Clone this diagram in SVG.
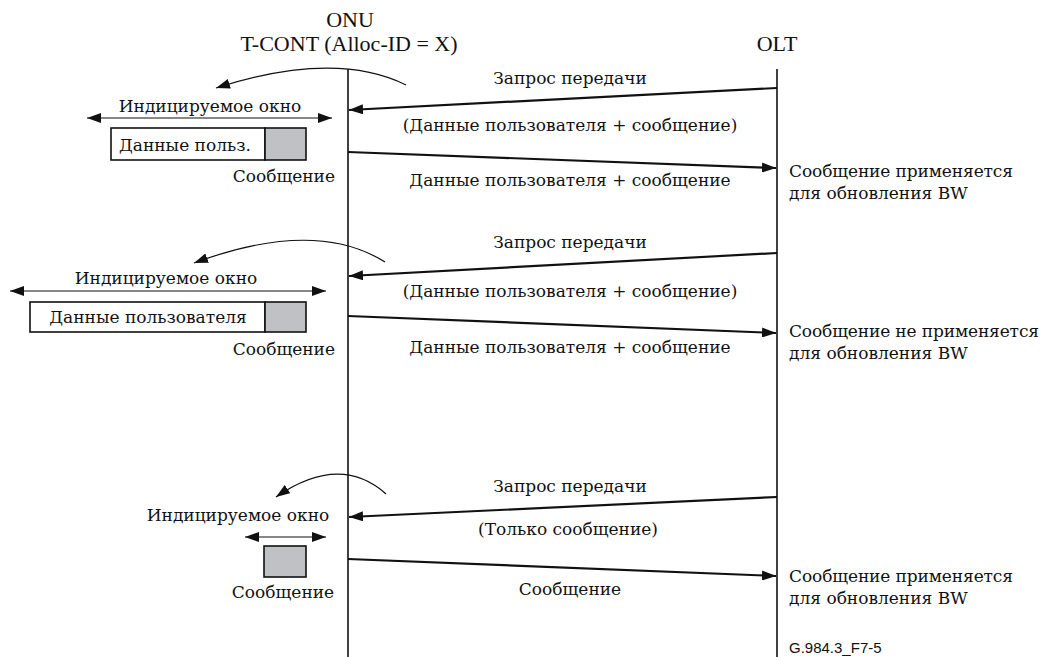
<svg xmlns="http://www.w3.org/2000/svg" width="1042" height="657" viewBox="0 0 1042 657">
  <style>
    text { font-family: 'DejaVu Serif', serif; font-size: 17px; fill: #111; }
    .lat { font-family: 'Liberation Serif', serif; font-size: 22px; }
    .mid { text-anchor: middle; }
    .end { text-anchor: end; }
    .small { font-family: 'Liberation Sans', sans-serif; font-size: 15px; }
    .life { stroke: #111; stroke-width: 1.6; fill: none; }
    .msg { stroke: #111; stroke-width: 2.2; fill: none; }
    .thin { stroke: #111; stroke-width: 1.2; fill: none; }
    .box { fill: #fff; stroke: #111; stroke-width: 1.6; }
    .msgbox { fill: #c0c1c4; stroke: #111; stroke-width: 1.6; }
  </style>
  <defs>
    <marker id="ah" viewBox="0 0 14 10" refX="14" refY="5" markerWidth="14" markerHeight="10" markerUnits="userSpaceOnUse" orient="auto-start-reverse">
      <path d="M0,0 L14,5 L0,10 Z" fill="#111"/>
    </marker>
  </defs>
  <rect width="1042" height="657" fill="#fff"/>

  <!-- Lifelines -->
  <g id="onu">
    <text class="lat mid" x="350" y="27">ONU</text>
    <text class="lat mid" x="349" y="51">T-CONT (Alloc-ID = X)</text>
    <line class="life" x1="348" y1="69" x2="348" y2="657"/>
  </g>
  <g id="olt">
    <text class="lat mid" x="777" y="51">OLT</text>
    <line class="life" x1="777" y1="69" x2="777" y2="657"/>
  </g>

  <!-- Messages and window arrows -->
  <g id="connectors">
    <!-- cycle 1 -->
    <path class="thin" d="M406,85 Q335,50 216,88" marker-end="url(#ah)"/>
    <line class="msg" x1="777" y1="88" x2="349" y2="110" marker-end="url(#ah)"/>
    <line class="msg" x1="348" y1="152" x2="776" y2="168" marker-end="url(#ah)"/>
    <line class="thin" x1="87" y1="118" x2="332" y2="118" marker-start="url(#ah)" marker-end="url(#ah)"/>
    <!-- cycle 2 -->
    <path class="thin" d="M385,262 Q315,218 194,263" marker-end="url(#ah)"/>
    <line class="msg" x1="777" y1="253" x2="349" y2="276" marker-end="url(#ah)"/>
    <line class="msg" x1="348" y1="316" x2="776" y2="333" marker-end="url(#ah)"/>
    <line class="thin" x1="10" y1="291" x2="326" y2="291" marker-start="url(#ah)" marker-end="url(#ah)"/>
    <!-- cycle 3 -->
    <path class="thin" d="M386,494 Q340,453 276,497" marker-end="url(#ah)"/>
    <line class="msg" x1="777" y1="497" x2="349" y2="517" marker-end="url(#ah)"/>
    <line class="msg" x1="348" y1="559" x2="776" y2="576" marker-end="url(#ah)"/>
    <line class="thin" x1="245" y1="537" x2="326" y2="537" marker-start="url(#ah)" marker-end="url(#ah)"/>
  </g>

  <!-- Cycle 1: report used -->
  <g id="cycle1">
    <text class="mid" x="570" y="84">Запрос передачи</text>
    <text class="mid" x="570" y="131">(Данные пользователя + сообщение)</text>
    <text class="mid" x="570" y="186">Данные пользователя + сообщение</text>
    <text x="789" y="177" textLength="224">Сообщение применяется</text>
    <text x="789" y="199">для обновления BW</text>
    <text class="mid" x="210" y="112">Индицируемое окно</text>
    <rect class="box" x="111" y="128" width="154" height="32"/>
    <rect class="msgbox" x="265" y="128" width="41" height="32"/>
    <text x="119" y="151">Данные польз.</text>
    <text class="end" x="335" y="182">Сообщение</text>
  </g>

  <!-- Cycle 2: report not used -->
  <g id="cycle2">
    <text class="mid" x="570" y="248">Запрос передачи</text>
    <text class="mid" x="570" y="297">(Данные пользователя + сообщение)</text>
    <text class="mid" x="570" y="353">Данные пользователя + сообщение</text>
    <text x="789" y="337" textLength="250">Сообщение не применяется</text>
    <text x="789" y="359">для обновления BW</text>
    <text class="mid" x="166" y="284">Индицируемое окно</text>
    <rect class="box" x="30" y="302" width="235" height="30"/>
    <rect class="msgbox" x="265" y="302" width="41" height="30"/>
    <text class="mid" x="148" y="323">Данные пользователя</text>
    <text class="end" x="335" y="355">Сообщение</text>
  </g>

  <!-- Cycle 3: report only -->
  <g id="cycle3">
    <text class="mid" x="570" y="492">Запрос передачи</text>
    <text class="mid" x="568" y="535">(Только сообщение)</text>
    <text class="mid" x="570" y="595">Сообщение</text>
    <text x="789" y="582" textLength="224">Сообщение применяется</text>
    <text x="789" y="604">для обновления BW</text>
    <text class="mid" x="238" y="521">Индицируемое окно</text>
    <rect class="msgbox" x="264" y="546" width="42" height="31"/>
    <text class="mid" x="283" y="598">Сообщение</text>
  </g>

  <text class="small" x="789" y="653">G.984.3_F7-5</text>
</svg>
